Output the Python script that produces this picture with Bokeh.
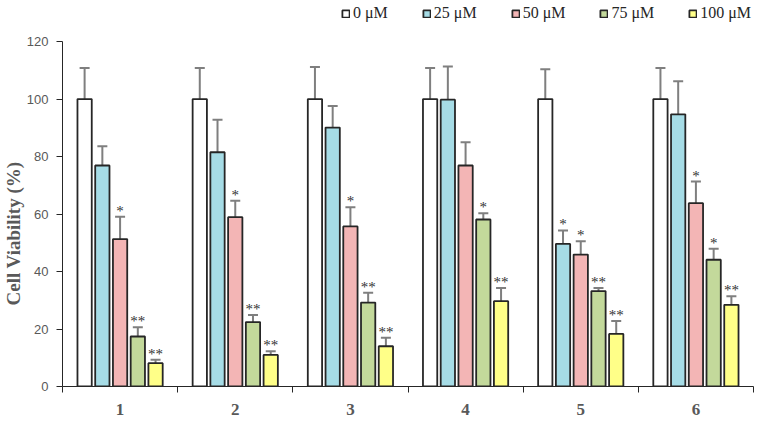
from bokeh.plotting import figure
from bokeh.models import (ColumnDataSource, Range1d, FixedTicker, Whisker, TeeHead,
                          Legend, LegendItem, Title)
from bokeh.core.properties import value
from bokeh.embed import file_html
from bokeh.resources import INLINE

groups = ["1", "2", "3", "4", "5", "6"]
series = ["0 μM", "25 μM", "50 μM", "75 μM", "100 μM"]
colors = ["#ffffff", "#a6dce6", "#f3b5b5", "#c3d99b", "#ffff88"]

v0 = [100, 100, 100, 100, 100, 100]
v25 = [76.9, 81.5, 90.1, 99.8, 49.6, 94.7]
v50 = [51.3, 58.9, 55.7, 76.9, 45.9, 63.8]
v75 = [17.4, 22.4, 29.2, 58.1, 33.2, 44.1]
v100 = [8.1, 11.0, 14.0, 29.7, 18.3, 28.4]

e0 = [10.8, 10.8, 11.2, 10.8, 10.4, 10.8]
e25 = [6.7, 11.3, 7.5, 11.5, 4.7, 11.5]
e50 = [7.8, 5.7, 6.7, 8.1, 4.6, 7.5]
e75 = [3.2, 2.5, 3.4, 2.2, 1.1, 3.8]
e100 = [1.2, 1.3, 3.0, 4.6, 4.5, 3.0]

s0 = ["", "", "", "", "", ""]
s25 = ["", "", "", "", "*", ""]
s50 = ["*", "*", "*", "", "*", "*"]
s75 = ["**", "**", "**", "*", "**", "*"]
s100 = ["**", "**", "**", "**", "**", "**"]

vals = [v0, v25, v50, v75, v100]
errs = [e0, e25, e50, e75, e100]
sigs = [s0, s25, s50, s75, s100]

y_ticks = [0, 20, 40, 60, 80, 100, 120]

W, H = 754, 418
p = figure(width=W, height=H, output_backend="svg", toolbar_location=None,
           x_range=Range1d(0, 6), y_range=Range1d(0, 134.3),
           min_border_left=55, min_border_right=1, min_border_top=0, min_border_bottom=32)
p.outline_line_color = None
p.xgrid.visible = False
p.ygrid.visible = False
p.background_fill_color = "white"

step = 0.154
bw = 0.124
items = []
for k in range(5):
    xs = [i + 0.5 + (k - 2) * step for i in range(6)]
    tops = [v + e for v, e in zip(vals[k], errs[k])]
    src = ColumnDataSource(dict(x=xs, top=vals[k], upper=tops, sig=sigs[k]))
    r = p.vbar(x="x", top="top", width=bw, source=src, fill_color=colors[k],
               line_color="#262626", line_width=1.8)
    items.append(LegendItem(label=series[k], renderers=[r]))
    w = Whisker(base="x", lower="top", upper="upper", source=src, dimension="height",
                line_color="#7f7f7f", line_width=2, lower_head=None,
                upper_head=TeeHead(size=10, line_color="#7f7f7f", line_width=2))
    p.add_layout(w)
    p.text(x="x", y="upper", text="sig", source=src, text_align="center",
           text_baseline="alphabetic", y_offset=-6, text_font=value("Liberation Serif"),
           text_font_size="15px", text_color="#333333")

leg = Legend(items=items, orientation="horizontal", location=(279, 364),
             label_text_font="Liberation Serif", label_text_font_size="16px",
             label_text_color="#262626", glyph_width=9, glyph_height=9,
             label_standoff=3, spacing=34, padding=0, margin=0,
             border_line_color=None, background_fill_alpha=0, label_height=16)
p.add_layout(leg)

ya = p.yaxis[0]
ya.ticker = FixedTicker(ticks=y_ticks)
ya.bounds = (0, 120)
ya.minor_tick_line_color = None
ya.major_tick_out = 6
ya.major_tick_in = 0
ya.axis_line_color = "#262626"
ya.major_tick_line_color = "#262626"
ya.major_label_standoff = 8
ya.major_label_text_font = "Liberation Sans"
ya.major_label_text_font_size = "13px"
ya.major_label_text_color = "#595959"

ytitle = Title(text="Cell Viability (%)", align="left", offset=81, standoff=0,
               text_font="Liberation Serif", text_font_style="bold",
               text_font_size="19px", text_color="#595959")
p.add_layout(ytitle, "left")

xa = p.xaxis[0]
xa.ticker = FixedTicker(ticks=[i + 0.5 for i in range(6)], minor_ticks=[0, 1, 2, 3, 4, 5, 6])
xa.major_label_overrides = {i + 0.5: g for i, g in enumerate(groups)}
xa.major_tick_out = 0
xa.major_tick_in = 0
xa.minor_tick_out = 6
xa.minor_tick_in = 0
xa.minor_tick_line_color = "#262626"
xa.axis_line_color = "#262626"
xa.major_label_standoff = 11
xa.major_label_text_font = "Liberation Serif"
xa.major_label_text_font_style = "bold"
xa.major_label_text_font_size = "17px"
xa.major_label_text_color = "#595959"

open("out.html", "w").write(file_html(p, INLINE))
